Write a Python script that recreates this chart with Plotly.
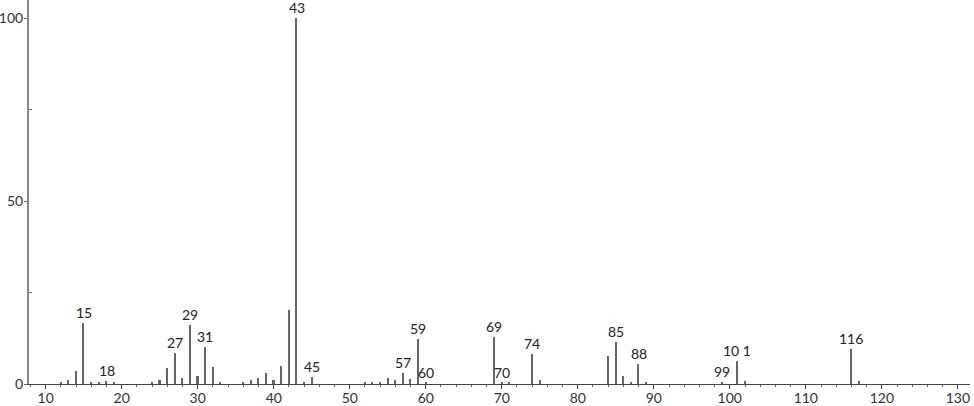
import plotly.graph_objects as go

mz = [12, 13, 14, 15, 16, 17, 18, 19, 24, 25, 26, 27, 28, 29, 30, 31, 32, 33,
      36, 37, 38, 39, 40, 41, 42, 43, 44, 45, 52, 53, 54, 55, 56, 57, 58, 59, 60,
      69, 70, 71, 74, 75, 84, 85, 86, 87, 88, 89, 99, 101, 102, 116, 117]
intensity = [0.5, 1.2, 3.5, 16.7, 0.5, 0.5, 0.8, 0.5, 0.5, 1.2, 4.4, 8.5, 1.7, 16.0, 2.2, 10.2, 4.7, 0.5,
             0.5, 1.2, 1.6, 3.0, 1.2, 5.0, 20.3, 100.0, 0.3, 1.8, 0.55, 0.6, 0.6, 1.6, 1.2, 2.9, 1.5, 12.3, 0.3,
             12.9, 0.3, 0.3, 8.3, 1.0, 7.7, 11.6, 2.2, 0.6, 5.5, 0.6, 0.5, 6.4, 0.8, 9.6, 0.7]

labeled_mz = [15, 18, 27, 29, 31, 43, 45, 57, 59, 60, 69, 70, 74, 85, 88, 99, 101, 116]
label_text = ["15", "18", "27", "29", "31", "43", "45", "57", "59", "60", "69", "70", "74", "85", "88", "99", "10 1", "116"]

x_ticks = [10, 20, 30, 40, 50, 60, 70, 80, 90, 100, 110, 120, 130]
y_ticks = [0, 50, 100]

font_family = "Lato, 'Open Sans', sans-serif"
lookup = dict(zip(mz, intensity))

fig = go.Figure()
fig.add_trace(go.Bar(
    x=mz, y=intensity, width=0.2,
    marker=dict(color="#666666", line=dict(width=0)),
    hoverinfo="x+y",
))

for m, t in zip(labeled_mz, label_text):
    fig.add_annotation(
        x=m, y=lookup.get(m, 0), text=t, showarrow=False,
        xanchor="center", yanchor="bottom", yshift=0,
        font=dict(family=font_family, size=14, color="#222222"),
    )

fig.update_layout(
    width=974, height=406,
    margin=dict(l=29, r=4, t=0, b=22, autoexpand=False),
    paper_bgcolor="white", plot_bgcolor="white",
    showlegend=False, bargap=0,
    font=dict(family=font_family, size=14, color="#333333"),
    xaxis=dict(
        range=[7.8, 131.6], tickvals=x_ticks, ticktext=[str(v) for v in x_ticks],
        showgrid=False, zeroline=False, showline=True, linecolor="#444444", linewidth=1,
        ticks="outside", ticklen=4, tickcolor="#444444", tickwidth=1,
        minor=dict(dtick=2, tick0=0, ticks="outside", ticklen=2, tickcolor="#666666", tickwidth=1),
        tickfont=dict(size=14, color="#333333"), automargin=False, ticklabelstandoff=-3,
    ),
    yaxis=dict(
        range=[0, 105], tickvals=y_ticks, ticktext=[str(v) for v in y_ticks],
        showgrid=False, zeroline=False, showline=True, linecolor="#888888", linewidth=2,
        ticks="outside", ticklen=3, tickcolor="#666666", tickwidth=1,
        minor=dict(tickvals=[25, 75], ticks="inside", ticklen=3, tickcolor="#666666"),
        tickfont=dict(size=14, color="#333333"), automargin=False, ticklabelstandoff=-2,
    ),
)

fig.write_html(
    "out.html",
    config={"displayModeBar": False},
    post_script="document.body.style.margin='0';document.body.style.overflow='hidden';",
)
